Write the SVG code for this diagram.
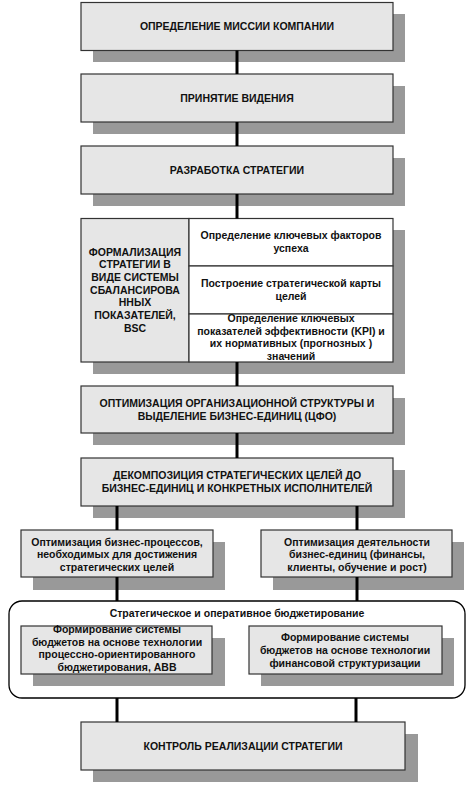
<svg xmlns="http://www.w3.org/2000/svg" width="468" height="787" viewBox="0 0 468 787">
<style>
.sh{fill:#999999;}
.bx{fill:#e6e6e6;stroke:#333333;stroke-width:1.2;}
.wc{fill:#ffffff;stroke:#333333;stroke-width:1.2;}
.t{font-family:"Liberation Sans",Arial,sans-serif;font-weight:bold;font-size:10.5px;fill:#111111;text-anchor:middle;}
.cn{stroke:#000000;stroke-width:3;fill:none;}
</style>
<rect width="468" height="787" fill="#ffffff"/>
<g id="n1">
<rect class="sh" x="93" y="14" width="312" height="48"/>
<rect class="bx" x="81" y="2.5" width="312" height="48"/>
<text class="t" x="237" y="30">ОПРЕДЕЛЕНИЕ МИССИИ КОМПАНИИ</text>
</g>
<g id="n2">
<rect class="sh" x="93" y="86" width="312" height="48"/>
<rect class="bx" x="81" y="74" width="312" height="48"/>
<text class="t" x="237" y="101.5">ПРИНЯТИЕ ВИДЕНИЯ</text>
</g>
<g id="n3">
<rect class="sh" x="93" y="158" width="312" height="48"/>
<rect class="bx" x="81" y="146" width="312" height="48"/>
<text class="t" x="237" y="173.5">РАЗРАБОТКА СТРАТЕГИИ</text>
</g>
<g id="n4">
<rect class="sh" x="93" y="230" width="312" height="144"/>
<rect class="bx" x="81" y="218.5" width="108" height="143.5"/>
<rect class="wc" x="189" y="218.5" width="204" height="47.5"/>
<rect class="wc" x="189" y="266" width="204" height="48"/>
<rect class="wc" x="189" y="314" width="204" height="48"/>
<text class="t" x="135" y="255.5">ФОРМАЛИЗАЦИЯ</text>
<text class="t" x="135" y="268.2">СТРАТЕГИИ В</text>
<text class="t" x="135" y="280.9">ВИДЕ СИСТЕМЫ</text>
<text class="t" x="135" y="293.6">СБАЛАНСИРОВА</text>
<text class="t" x="135" y="306.3">ННЫХ</text>
<text class="t" x="135" y="319">ПОКАЗАТЕЛЕЙ,</text>
<text class="t" x="135" y="331.7">BSC</text>
<text class="t" x="291" y="238.8">Определение ключевых факторов</text>
<text class="t" x="291" y="251.5">успеха</text>
<text class="t" x="291" y="286.5">Построение стратегической карты</text>
<text class="t" x="291" y="299.5">целей</text>
<text class="t" x="291" y="322">Определение ключевых</text>
<text class="t" x="291" y="334.7">показателей эффективности (KPI) и</text>
<text class="t" x="291" y="347.4">их нормативных (прогнозных )</text>
<text class="t" x="291" y="360">значений</text>
</g>
<g id="n5">
<rect class="sh" x="93" y="398" width="312" height="47"/>
<rect class="bx" x="81" y="386" width="312" height="47"/>
<text class="t" x="237" y="407.2">ОПТИМИЗАЦИЯ ОРГАНИЗАЦИОННОЙ СТРУКТУРЫ И</text>
<text class="t" x="237" y="419.9">ВЫДЕЛЕНИЕ БИЗНЕС-ЕДИНИЦ (ЦФО)</text>
</g>
<g id="n6">
<rect class="sh" x="93" y="470" width="312" height="48"/>
<rect class="bx" x="81" y="458" width="312" height="48"/>
<text class="t" x="237" y="478.8">ДЕКОМПОЗИЦИЯ СТРАТЕГИЧЕСКИХ ЦЕЛЕЙ ДО</text>
<text class="t" x="237" y="491.5">БИЗНЕС-ЕДИНИЦ И КОНКРЕТНЫХ ИСПОЛНИТЕЛЕЙ</text>
</g>
<g id="n7">
<rect class="sh" x="33" y="542" width="192" height="48"/>
<rect class="bx" x="21" y="530" width="192" height="47"/>
<text class="t" x="117" y="545.5">Оптимизация бизнес-процессов,</text>
<text class="t" x="117" y="558.2">необходимых для достижения</text>
<text class="t" x="117" y="570.9">стратегических целей</text>
</g>
<g id="n8">
<rect class="sh" x="273" y="542" width="191" height="48"/>
<rect class="bx" x="261" y="530" width="191" height="47"/>
<text class="t" x="357" y="545.5">Оптимизация деятельности</text>
<text class="t" x="357" y="558.2">бизнес-единиц (финансы,</text>
<text class="t" x="357" y="570.9">клиенты, обучение и рост)</text>
</g>
<g id="n9">
<rect x="9" y="601" width="456" height="97" rx="13" ry="13" fill="#ffffff" stroke="#000000" stroke-width="1.3"/>
<text class="t" x="237" y="617">Стратегическое и оперативное бюджетирование</text>
</g>
<g id="n10">
<rect class="sh" x="33" y="638" width="192" height="48"/>
<rect class="bx" x="21" y="626" width="191" height="48"/>
<text class="t" x="117" y="632.8">Формирование системы</text>
<text class="t" x="117" y="645.5">бюджетов на основе технологии</text>
<text class="t" x="117" y="658.2">процессно-ориентированного</text>
<text class="t" x="117" y="671">бюджетирования, ABB</text>
</g>
<g id="n11">
<rect class="sh" x="261" y="638" width="193" height="48"/>
<rect class="bx" x="249" y="626" width="193" height="48"/>
<text class="t" x="345" y="641.2">Формирование системы</text>
<text class="t" x="345" y="653.9">бюджетов на основе технологии</text>
<text class="t" x="345" y="666.6">финансовой структуризации</text>
</g>
<g id="n12">
<rect class="sh" x="93" y="734" width="325" height="48"/>
<rect class="bx" x="81" y="722" width="324" height="48"/>
<text class="t" x="243" y="749.5">КОНТРОЛЬ РЕАЛИЗАЦИИ СТРАТЕГИИ</text>
</g>
<g id="connectors">
<line class="cn" x1="237" y1="50.5" x2="237" y2="74"/>
<line class="cn" x1="237" y1="122" x2="237" y2="146"/>
<line class="cn" x1="237" y1="194" x2="237" y2="218.5"/>
<line class="cn" x1="237" y1="362" x2="237" y2="386"/>
<line class="cn" x1="237" y1="433" x2="237" y2="458"/>
<line class="cn" x1="117" y1="506" x2="117" y2="530"/>
<line class="cn" x1="357" y1="506" x2="357" y2="530"/>
<line class="cn" x1="117" y1="577" x2="117" y2="601"/>
<line class="cn" x1="357" y1="577" x2="357" y2="601"/>
<line class="cn" x1="117" y1="698" x2="117" y2="722"/>
<line class="cn" x1="356" y1="698" x2="356" y2="722"/>
</g>
</svg>
